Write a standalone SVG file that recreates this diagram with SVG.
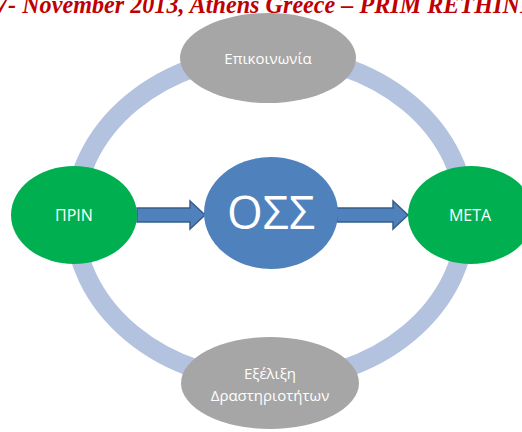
<svg xmlns="http://www.w3.org/2000/svg" width="522" height="432" viewBox="0 0 522 432">
<style>
.t{font-family:"Open Sans","Liberation Sans",sans-serif;fill:#fff;text-anchor:middle}
.arrow{fill:#4F81BD;stroke:#385D8A;stroke-width:1.5}
</style>
<rect width="522" height="432" fill="#fff"/>
<text x="-4" y="13" font-family="Liberation Serif,serif" font-weight="bold" font-style="italic" font-size="26" fill="#C00000" textLength="540" lengthAdjust="spacingAndGlyphs">7- November 2013, Athens Greece – PRIM RETHINK</text>
<g id="ring"><ellipse cx="270" cy="218" rx="196" ry="163" fill="none" stroke="#B3C3DF" stroke-width="19"/></g>
<g id="top"><ellipse cx="268" cy="58" rx="88" ry="45" fill="#A6A6A6"/><text class="t" x="268" y="64" font-size="15">Επικοινωνία</text></g>
<g id="bottom"><ellipse cx="270" cy="383" rx="89" ry="46" fill="#A6A6A6"/><text class="t" x="270" y="379" font-size="15">Εξέλιξη</text><text class="t" x="270" y="401" font-size="15">Δραστηριοτήτων</text></g>
<g id="connectors">
<path class="arrow" d="M137,208 H190 V201 L205,215 L190,229 V222 H137 Z"/>
<path class="arrow" d="M337,208 H393 V201 L408,215 L393,229 V222 H337 Z"/>
</g>
<g id="prin"><ellipse cx="74" cy="215" rx="63" ry="49" fill="#00B050"/><text class="t" x="74" y="221" font-size="16">ΠΡΙΝ</text></g>
<g id="oss"><ellipse cx="271" cy="213" rx="67" ry="56" fill="#4F81BD"/><text class="t" x="271" y="229" font-size="46">ΟΣΣ</text></g>
<g id="meta"><ellipse cx="471" cy="215" rx="63" ry="49" fill="#00B050"/><text class="t" x="470" y="221" font-size="16">ΜΕΤΑ</text></g>
</svg>
